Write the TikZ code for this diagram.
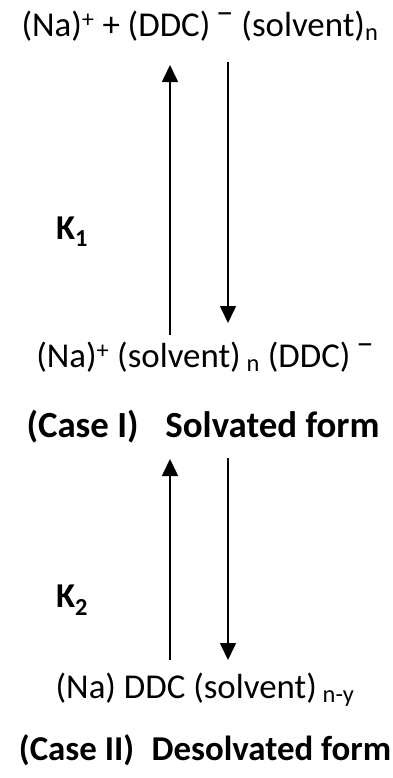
\documentclass[tikz,border=0pt]{standalone}
\usepackage{fontspec}
\setmainfont{Carlito}
\usepackage{tikz}
\usetikzlibrary{arrows.meta, positioning}
\def\chminus{\raisebox{0.36em}{\,--}}

\begin{document}
\begin{tikzpicture}[x=1bp, y=-1bp, >={Triangle[width=16bp,length=17bp]},
  species/.style={inner sep=0pt, font=\fontsize{35}{40}\selectfont},
  caselabel/.style={inner sep=0pt, font=\fontsize{36}{40}\selectfont\bfseries},
  klabel/.style={inner sep=0pt, font=\fontsize{35}{40}\selectfont\bfseries},
  eqarrow/.style={->, line width=1.6bp}]

\useasboundingbox (0,0) rectangle (392,778);

% species and labels
\node[species] (free) at (200,26) {(Na)\textsuperscript{+} + (DDC)\chminus{} (solvent)\textsubscript{n}};
\node[species] (solv) at (205,357) {(Na)\textsuperscript{+} (solvent)\,\textsubscript{n} (DDC)\chminus};
\node[caselabel, font=\fontsize{37}{40}\selectfont\bfseries] (case1) at (203,427) {(Case I)\enspace\ Solvated form};
\node[species] (desolv) at (205,690) {(Na) DDC (solvent)\,\textsubscript{n-y}};
\node[caselabel, font=\fontsize{35}{40}\selectfont\bfseries] (case2) at (205,750) {(Case II)\enspace Desolvated form};

\node[klabel] (k1) at (72,232) {K\textsubscript{1}};
\node[klabel] (k2) at (72,600) {K\textsubscript{2}};

% arrow ends
\coordinate (up1a) at (170,335);  \coordinate (up1b) at (170,65);
\coordinate (dn1a) at (228,62);   \coordinate (dn1b) at (228,323);
\coordinate (up2a) at (170,660);  \coordinate (up2b) at (170,459);
\coordinate (dn2a) at (228,458);  \coordinate (dn2b) at (228,660);

\draw[eqarrow] (up1a) -- (up1b);
\draw[eqarrow] (dn1a) -- (dn1b);
\draw[eqarrow] (up2a) -- (up2b);
\draw[eqarrow] (dn2a) -- (dn2b);

\end{tikzpicture}
\end{document}
